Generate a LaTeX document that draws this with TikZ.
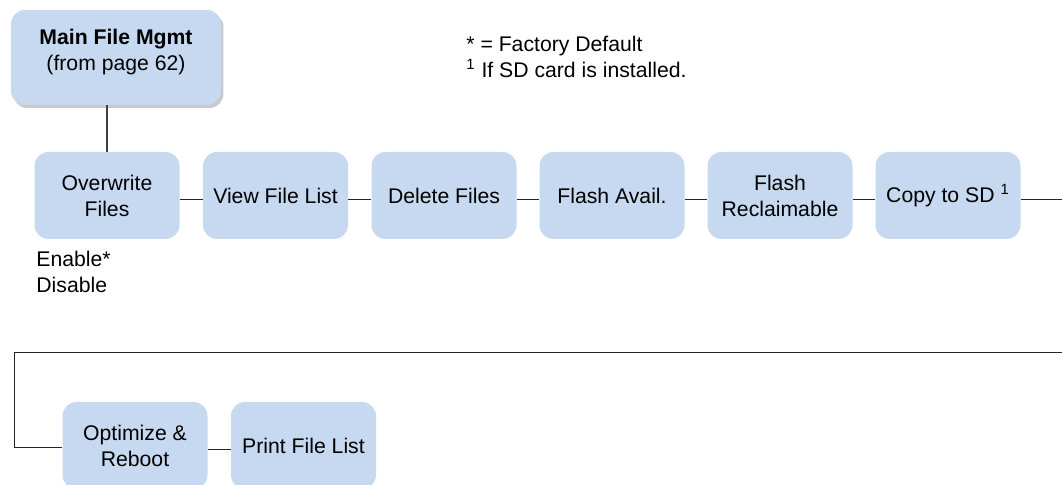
\documentclass[tikz,border=0pt]{standalone}
\usepackage{fontspec}
\setmainfont{Liberation Sans}
\usetikzlibrary{shadows}
\definecolor{boxblue}{HTML}{C6D9F0}
\definecolor{linegray}{HTML}{404040}

\begin{document}
\begin{tikzpicture}[x=0.5pt,y=-0.5pt,
  txt/.style={font=\fontsize{10.6}{13}\selectfont},
  menubox/.style={txt,rounded corners=7pt,fill=boxblue,align=center,
                  inner sep=2pt,minimum width=72.5pt,minimum height=43.5pt},
  mainbox/.style={menubox,minimum width=105pt,minimum height=47.5pt,
                  drop shadow={shadow xshift=1.2pt,shadow yshift=-1.5pt,
                               opacity=0.3,fill=black!70}},
  conn/.style={line width=0.5pt,black!85}]

  \clip (0,0) rectangle (1062,485);

  % top box
  \node[mainbox] (main) at (116,57.5)
    {\textbf{Main File Mgmt}\\(from page 62)\\[-5.5pt]\mbox{}};

  % first row
  \node[menubox] (ovw)   at (107,195.5)  {Overwrite\\Files};
  \node[menubox] (view)  at (275.5,195.5) {View File List};
  \node[menubox] (del)   at (444,195.5)  {Delete Files};
  \node[menubox] (avail) at (612,195.5)  {Flash Avail.};
  \node[menubox] (recl)  at (780,195.5)  {Flash\\Reclaimable};
  \node[menubox] (copy)  at (948,195.5)  {Copy to SD \textsuperscript{1}};

  % second row
  \node[menubox] (optim) at (135,445.5)  {Optimize \&\\Reboot};
  \node[menubox] (print) at (303.5,445.5) {Print File List};

  % options and notes
  \node[txt,anchor=north west,align=left,inner sep=0pt] (ovwopt) at (36,251)
    {Enable*\\Disable};
  \node[txt,anchor=north west,align=left,inner sep=0pt] (notes) at (466,36)
    {* = Factory Default\\\textsuperscript{1} If SD card is installed.};

  % connectors
  \draw[line width=0.7pt,linegray] (main.south -| ovw.north) -- (ovw.north);
  \foreach \a/\b in {ovw/view,view/del,del/avail,avail/recl,recl/copy}
    \draw[conn] ([yshift=-2.25pt]\a.east) -- ([yshift=-2.25pt]\b.west);
  \coordinate (rowend) at (1062,200);
  \draw[conn] ([yshift=-2.25pt]copy.east) -- (rowend);

  \coordinate (wrapR) at (1062,353);
  \coordinate (wrapL) at (14,353);
  \draw[conn] (wrapR) -- (wrapL) |- ([yshift=-1.25pt]optim.west);
  \draw[conn] ([yshift=-2.25pt]optim.east) -- ([yshift=-2.25pt]print.west);
\end{tikzpicture}
\end{document}
